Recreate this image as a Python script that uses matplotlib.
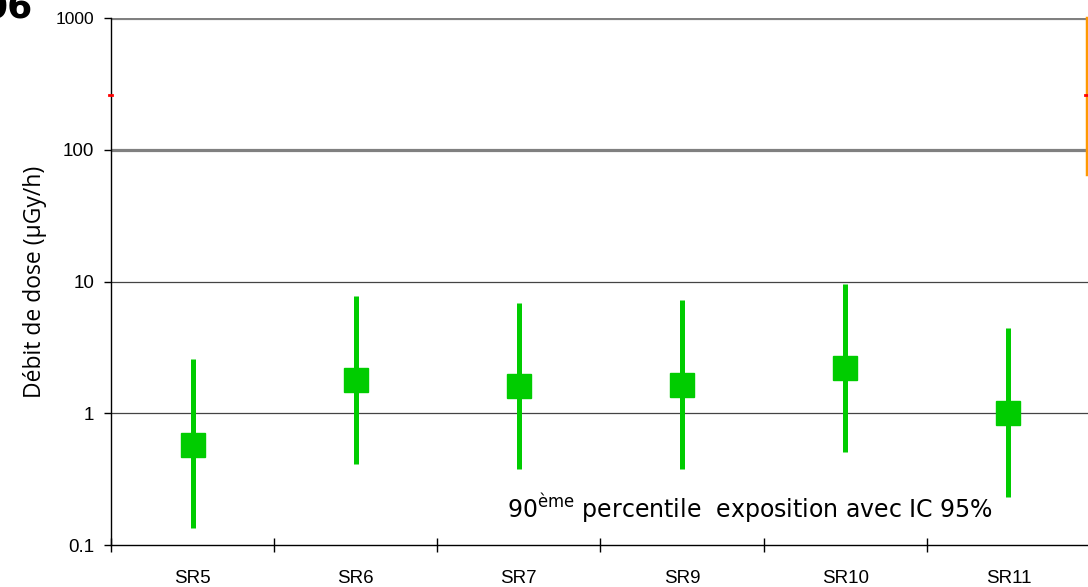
#!/usr/bin/env python3
"""90th percentile dose rate per sector, with 95% CI (log scale)."""

import matplotlib

matplotlib.use("Agg")
import matplotlib.pyplot as plt
import matplotlib.transforms as mtransforms
import numpy as np

# values (µGy/h)
sectors = ["SR5", "SR6", "SR7", "SR9", "SR10", "SR11"]
p90 = [0.57, 1.78, 1.60, 1.63, 2.19, 1.00]
ci_low = [0.134, 0.41, 0.38, 0.38, 0.51, 0.23]
ci_high = [2.56, 7.7, 6.9, 7.2, 9.5, 4.4]
y_ticks = [0.1, 1, 10, 100, 1000]
y_tick_labels = ["0.1", "1", "10", "100", "1000"]

GREEN = "#00cc00"

fig = plt.figure(figsize=(10.88, 5.87), dpi=100)
ax = fig.add_axes([111 / 1088, 1 - 545 / 587, 979 / 1088, (545 - 18) / 587])

x = np.arange(len(sectors))
p90_arr = np.array(p90)
yerr = np.vstack([p90_arr - np.array(ci_low), np.array(ci_high) - p90_arr])
ax.errorbar(x, p90_arr, yerr=yerr, fmt="s", color=GREEN, ecolor=GREEN,
            elinewidth=3.6, capsize=0, markersize=17, zorder=3)

ax.set_yscale("log")
ax.set_ylim(0.1, 1000)
ax.set_xlim(-0.5, len(sectors) - 0.5)

# horizontal grid: heavy grey for the upper decades, thin dark for the lower
for v in [1000, 100]:
    ax.axhline(v, color="#808080", linewidth=2.3, zorder=1)
for v in [10, 1]:
    ax.axhline(v, color="#444444", linewidth=0.9, zorder=1)

ax.set_yticks(y_ticks)
ax.set_yticklabels(y_tick_labels)
ax.yaxis.set_minor_locator(matplotlib.ticker.NullLocator())
ax.tick_params(axis="y", which="major", direction="out", length=5, width=1,
               pad=7, labelsize=13.5)
for lbl in ax.get_yticklabels():
    lbl.set_fontfamily("Liberation Sans")
ax.get_yticklabels()[-1].set_fontsize(12.5)

ax.set_xticks(x)
ax.set_xticklabels(sectors, fontfamily="Liberation Sans", fontsize=13.5)
ax.set_xticks(np.arange(len(sectors) + 1) - 0.5, minor=True)
ax.tick_params(axis="x", which="major", length=0, pad=18)
ax.tick_params(axis="x", which="minor", direction="inout", length=10, width=1)

for side in ["top", "right"]:
    ax.spines[side].set_visible(False)
ax.spines["left"].set_linewidth(1)
ax.spines["bottom"].set_linewidth(1)

ax.set_ylabel("Débit de dose (µGy/h)", fontsize=16.5, fontfamily="Open Sans",
              labelpad=6)

ax.text(0.405, 0.052, "90$^{\\mathrm{ème}}$ percentile  exposition avec IC 95%",
        transform=ax.transAxes, fontsize=17, ha="left", va="baseline")

# leftover decorations at the plot edges
trans = mtransforms.blended_transform_factory(ax.transAxes, ax.transData)
ax.plot([0.9965, 0.9965], [66, 1000], color="#ff9900", linewidth=2.5,
        transform=trans, clip_on=False, zorder=4)
ax.plot([-0.002, 0.001], [260, 260], color="red", linewidth=2,
        transform=trans, clip_on=False, zorder=4)
ax.plot([0.995, 0.999], [260, 260], color="red", linewidth=2,
        transform=trans, clip_on=False, zorder=5)

fig.text(33 / 1088, 1 - 18 / 587, "06", fontsize=26, fontweight="bold",
         ha="right", va="baseline")

fig.savefig("out.png", dpi=100)
